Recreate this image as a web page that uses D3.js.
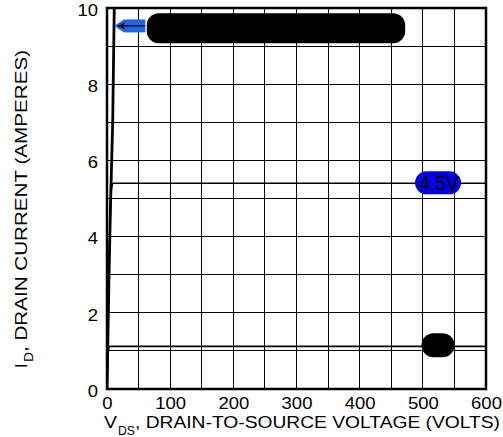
<!DOCTYPE html>
<html><head><meta charset="utf-8">
<script src="https://cdn.jsdelivr.net/npm/d3@7"></script>
<style>body{margin:0;background:#fff}svg{display:block;font-family:"Liberation Sans",Arial,sans-serif}</style>
</head><body><svg id="c" width="503" height="437"></svg>
<script>
// Data
const vdsTicks = [0, 100, 200, 300, 400, 500, 600];
const idTicks = [0, 2, 4, 6, 8, 10];
const vdsGrid = d3.range(0, 601, 50);
const idGrid = d3.range(0, 11, 1);
const curveTopV = [0, 3.2, 5.8, 9, 11.5];
const curveTopI = [0, 3, 5, 7, 10];
const curve45V = [0, 3, 5.5, 7.5, 10, 600];
const curve45I = [0, 2.8, 4.8, 5.3, 5.4, 5.4];
const curveLowV = [0, 2, 4, 600];
const curveLowI = [0, 0.95, 1.12, 1.12];
const label45 = {text: "4.5V", v: 524, i: 5.4};
const blobLow = {v: 524, i: 1.15};
const topBar = {v0: 63, v1: 472, i: 9.47};
const arrowTop = {v0: 60, v1: 12.7, i: 9.53};
const xTitle = ["V", "DS", ", DRAIN-TO-SOURCE VOLTAGE (VOLTS)"];
const yTitle = ["I", "D", ", DRAIN CURRENT (AMPERES)"];

const svg = d3.select("#c");
const m = {l: 107, r: 486, t: 8, b: 389};
const x = d3.scaleLinear().domain([0, 600]).range([m.l, m.r]);
const y = d3.scaleLinear().domain([0, 10]).range([m.b, m.t]);

// grid
svg.append("g").selectAll("line").data(vdsGrid).join("line")
  .attr("x1", d => x(d)).attr("x2", d => x(d)).attr("y1", y(0)).attr("y2", y(10))
  .attr("stroke", "#000").attr("stroke-width", 1).attr("shape-rendering", "crispEdges");
svg.append("g").selectAll("line").data(idGrid).join("line")
  .attr("y1", d => y(d)).attr("y2", d => y(d)).attr("x1", x(0)).attr("x2", x(600))
  .attr("stroke", "#000").attr("stroke-width", 1).attr("shape-rendering", "crispEdges");

// curves
const line = d3.line().x(d => x(d[0])).y(d => y(d[1])).curve(d3.curveMonotoneX);
svg.append("clipPath").attr("id", "pc").append("rect")
  .attr("x", x(0)).attr("y", y(10)).attr("width", x(600) - x(0)).attr("height", y(0) - y(10));
const cg = svg.append("g").attr("clip-path", "url(#pc)");
cg.append("path").datum(d3.zip(curveLowV, curveLowI)).attr("d", line)
  .attr("fill", "none").attr("stroke", "#000").attr("stroke-width", 1.6);
cg.append("path").datum(d3.zip(curve45V, curve45I)).attr("d", line)
  .attr("fill", "none").attr("stroke", "#000").attr("stroke-width", 1.6);
cg.append("path").datum(d3.zip(curveTopV, curveTopI))
  .attr("d", d3.line().x(d => x(d[0])).y(d => y(d[1])).curve(d3.curveMonotoneY))
  .attr("fill", "none").attr("stroke", "#000").attr("stroke-width", 2.8);

// frame
svg.append("rect").attr("x", x(0)).attr("y", y(10)).attr("width", x(600) - x(0)).attr("height", y(0) - y(10))
  .attr("fill", "none").attr("stroke", "#000").attr("stroke-width", 2.5);

// axes tick labels
const xa = d3.axisBottom(x).tickValues(vdsTicks).tickSize(0).tickPadding(8);
const gx = svg.append("g").attr("transform", `translate(0,${y(0)})`).call(xa);
gx.select(".domain").remove();
gx.selectAll("text").attr("font-size", 16.5).attr("fill", "#000")
  .attr("font-family", "Liberation Sans, Arial, sans-serif").attr("transform", "scale(1.12,1)");
const ya = d3.axisLeft(y).tickValues(idTicks).tickSize(0).tickPadding(0);
const gy = svg.append("g").attr("transform", `translate(${x(0)},0)`).call(ya);
gy.select(".domain").remove();
gy.selectAll("text").attr("font-size", 16.5).attr("fill", "#000").attr("x", -9)
  .attr("font-family", "Liberation Sans, Arial, sans-serif")
  .attr("transform", "translate(-9,2) scale(1.12,1) translate(9,0)");

// axis titles
const fs = 16.5;
svg.append("text").attr("x", 104).attr("y", 428).attr("font-size", fs).attr("fill", "#000")
  .attr("textLength", 13).attr("lengthAdjust", "spacingAndGlyphs").text(xTitle[0]);
svg.append("text").attr("x", 118).attr("y", 435).attr("font-size", 12.5).attr("fill", "#000")
  .attr("textLength", 17).attr("lengthAdjust", "spacingAndGlyphs").text(xTitle[1]);
svg.append("text").attr("x", 135).attr("y", 428).attr("font-size", fs).attr("fill", "#000")
  .attr("textLength", 365).attr("lengthAdjust", "spacingAndGlyphs").text(xTitle[2]);

const yg = svg.append("g").attr("transform", "translate(27,368) rotate(-90)");
yg.append("text").attr("x", 0).attr("y", 0).attr("font-size", fs).attr("fill", "#000").text(yTitle[0]);
yg.append("text").attr("x", 6).attr("y", 6).attr("font-size", 12.5).attr("fill", "#000")
  .attr("textLength", 10).attr("lengthAdjust", "spacingAndGlyphs").text(yTitle[1]);
yg.append("text").attr("x", 16).attr("y", 0).attr("font-size", fs).attr("fill", "#000")
  .attr("textLength", 302).attr("lengthAdjust", "spacingAndGlyphs").text(yTitle[2]);

// annotations
svg.append("rect").attr("x", x(topBar.v0)).attr("y", y(topBar.i) - 15).attr("width", x(topBar.v1) - x(topBar.v0)).attr("height", 30)
  .attr("rx", 12).attr("fill", "#000");
const ax0 = x(arrowTop.v0), ax1 = x(arrowTop.v1), ay = y(arrowTop.i);
svg.append("path").attr("d", `M${ax0},${ay-6} L${ax1+9},${ay-6} L${ax1},${ay} L${ax1+9},${ay+6} L${ax0},${ay+6} Z`)
  .attr("fill", "#1f66e5").attr("stroke", "#1f66e5").attr("stroke-linejoin", "round").attr("stroke-width", 1);
svg.append("line").attr("x1", ax0).attr("x2", ax1 + 3).attr("y1", ay).attr("y2", ay).attr("stroke", "#000").attr("stroke-width", 1.3);
svg.append("path").attr("d", `M${ax1+3},${ay} L${ax1+10},${ay-3.5} L${ax1+8},${ay} L${ax1+10},${ay+3.5} Z`).attr("fill", "#000");

svg.append("rect").attr("x", x(label45.v) - 23).attr("y", y(label45.i) - 12).attr("width", 46).attr("height", 23)
  .attr("rx", 11.5).attr("fill", "#0000ee");
svg.append("text").attr("x", x(label45.v) + 1).attr("y", y(label45.i) + 7).attr("text-anchor", "middle")
  .attr("font-size", 19.5).attr("fill", "#000").text(label45.text);

svg.append("rect").attr("x", x(blobLow.v) - 16.5).attr("y", y(blobLow.i) - 12).attr("width", 33).attr("height", 24)
  .attr("rx", 12).attr("fill", "#000");
</script></body></html>
